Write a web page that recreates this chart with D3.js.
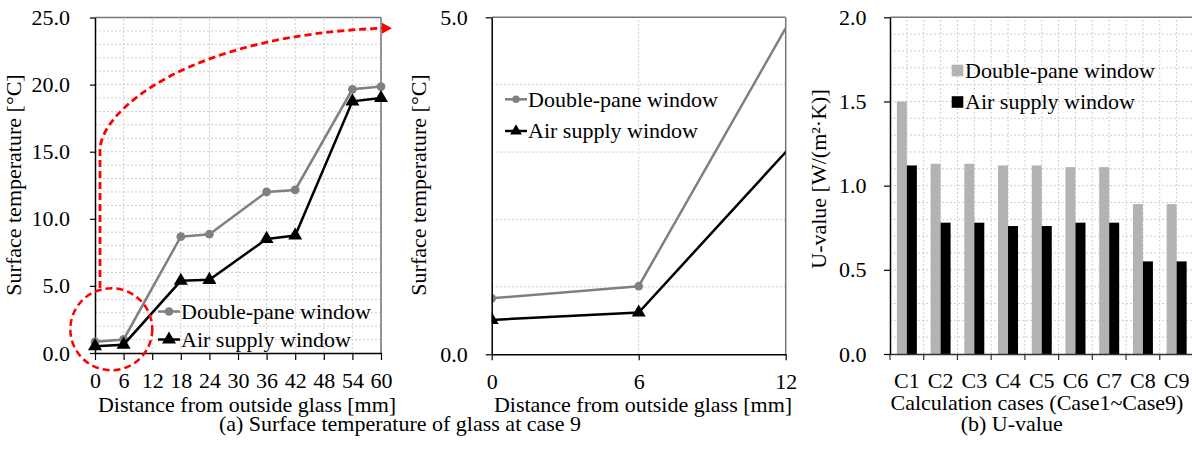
<!DOCTYPE html>
<html>
<head>
<meta charset="utf-8">
<script src="https://cdn.jsdelivr.net/npm/d3@7"></script>
<style>
  body { margin: 0; background: #fff; }
  svg { display: block; font-family: "Liberation Serif", "Times New Roman", serif; }
</style>
</head>
<body>
<div id="scene"></div>
<script>
// ---- data ----
var distance = [0, 6, 18, 24, 36, 42, 54, 60];
var doublePane = [0.83, 1.01, 8.67, 8.85, 12.0, 12.15, 19.65, 19.85];
var airSupply = [0.51, 0.62, 5.38, 5.45, 8.5, 8.75, 18.75, 19.0];

var cases = ["C1", "C2", "C3", "C4", "C5", "C6", "C7", "C8", "C9"];
var uDouble = [1.50, 1.13, 1.13, 1.12, 1.12, 1.11, 1.11, 0.89, 0.89];
var uAir = [1.12, 0.78, 0.78, 0.76, 0.76, 0.78, 0.78, 0.55, 0.55];

var seriesNames = ["Double-pane window", "Air supply window"];

// annotation path (data units of panel a)
var arrowStart = [1.05, 4.84];
var arrowBend = [1.05, 15.1];
var arrowCtrl = [[1.05, 18.1], [19.9, 23.7]];
var arrowEnd = [60.4, 24.2];
var zoomCircle = {x: 3.42, y: 1.77, r: 8.6};

var ctx = {
  w: 1192,
  h: 450,
  font: 22,
  gray: "#808080",
  barGray: "#b3b3b3",
  grid: "#cfcfcf",
  border: "#767676"
};

var svg = d3.select("#scene").append("svg")
  .attr("width", ctx.w)
  .attr("height", ctx.h);

function label(g, x, y, txt, anchor, rot) {
  var t = g.append("text")
    .attr("font-size", ctx.font)
    .attr("fill", "#000")
    .attr("text-anchor", anchor || "middle")
    .text(txt);
  if (rot) t.attr("transform", "translate(" + x + "," + y + ") rotate(" + rot + ")");
  else t.attr("x", x).attr("y", y);
  return t;
}

function gridLines(g, xs, ys, x, y) {
  g.append("g").selectAll("line").data(ys).enter().append("line")
    .attr("x1", x.range()[0]).attr("x2", x.range()[1])
    .attr("y1", function(d) { return y(d); }).attr("y2", function(d) { return y(d); })
    .attr("stroke", ctx.grid).attr("stroke-dasharray", "2,2");
  g.append("g").selectAll("line").data(xs).enter().append("line")
    .attr("y1", y.range()[0]).attr("y2", y.range()[1])
    .attr("x1", function(d) { return x(d); }).attr("x2", function(d) { return x(d); })
    .attr("stroke", ctx.grid).attr("stroke-dasharray", "2,2");
}

function frame(g, x0, x1, y0, y1, withRight) {
  g.append("line").attr("x1", x0).attr("x2", x1).attr("y1", y1).attr("y2", y1)
    .attr("stroke", ctx.border).attr("stroke-width", 1.5);
  if (withRight) {
    g.append("line").attr("x1", x1).attr("x2", x1).attr("y1", y0).attr("y2", y1)
      .attr("stroke", ctx.border).attr("stroke-width", 1.5);
  }
}

function styleAxis(a) {
  a.attr("font-family", null).attr("font-size", null);
  a.select(".domain").attr("stroke", "#000").attr("stroke-width", 1.5);
  a.selectAll(".tick line").attr("stroke", "#000").attr("stroke-width", 1.2);
  a.selectAll("text").attr("font-size", ctx.font).attr("fill", "#000");
}

function triangle(s) {
  return d3.symbol().type(d3.symbolTriangle).size(s)();
}

function drawSeries(g, x, y, vals, color, marker) {
  var pts = distance.map(function(d, i) { return [d, vals[i]]; });
  g.append("path")
    .datum(pts)
    .attr("fill", "none")
    .attr("stroke", color)
    .attr("stroke-width", 2.5)
    .attr("d", d3.line().x(function(d) { return x(d[0]); }).y(function(d) { return y(d[1]); }));
  var m = g.append("g").selectAll("path").data(pts).enter().append("path")
    .attr("fill", color)
    .attr("transform", function(d) { return "translate(" + x(d[0]) + "," + y(d[1]) + ")"; });
  if (marker === "circle") m.attr("d", d3.symbol().type(d3.symbolCircle).size(60)());
  else m.attr("d", triangle(85));
}

function lineLegend(g, x0, y0, dy, small) {
  var items = [{name: seriesNames[0], color: ctx.gray, marker: "circle"},
               {name: seriesNames[1], color: "#000", marker: "tri"}];
  items.forEach(function(it, i) {
    var yy = y0 + i * dy;
    g.append("line").attr("x1", x0).attr("x2", x0 + 22).attr("y1", yy).attr("y2", yy)
      .attr("stroke", it.color).attr("stroke-width", 2.5);
    g.append("path")
      .attr("transform", "translate(" + (x0 + 11) + "," + yy + ")")
      .attr("fill", it.color)
      .attr("d", it.marker === "circle" ? d3.symbol().type(d3.symbolCircle).size(small ? 45 : 60)() : triangle(small ? 60 : 85));
    label(g, x0 + 23, yy + 7.3, it.name, "start");
  });
}

// ---------- panel (a) left ----------
var pA = svg.append("g");
var xA = d3.scaleLinear().domain([0, 60]).range([95, 381]);
var yA = d3.scaleLinear().domain([0, 25]).range([353, 17.5]);

gridLines(pA, d3.range(6, 61, 6), d3.range(1, 26, 1), xA, yA);
frame(pA, 95, 381, 353, 17.5, true);

var axA = pA.append("g").attr("transform", "translate(0,353)")
  .call(d3.axisBottom(xA).tickValues(d3.range(0, 61, 6)).tickSize(7).tickPadding(12.4).tickSizeOuter(0));
styleAxis(axA);
var ayA = pA.append("g").attr("transform", "translate(95,0)")
  .call(d3.axisLeft(yA).tickValues(d3.range(0, 26, 5)).tickFormat(d3.format(".1f")).tickSize(5).tickPadding(20).tickSizeOuter(0));
styleAxis(ayA);

drawSeries(pA, xA, yA, doublePane, ctx.gray, "circle");
drawSeries(pA, xA, yA, airSupply, "#000", "tri");

lineLegend(pA, 158, 311.5, 28, false);

// red annotation
var p = d3.path();
p.moveTo(xA(arrowStart[0]), yA(arrowStart[1]));
p.lineTo(xA(arrowBend[0]), yA(arrowBend[1]));
p.bezierCurveTo(xA(arrowCtrl[0][0]), yA(arrowCtrl[0][1]), xA(arrowCtrl[1][0]), yA(arrowCtrl[1][1]), xA(arrowEnd[0]), yA(arrowEnd[1]));
pA.append("path").attr("d", p.toString())
  .attr("fill", "none").attr("stroke", "#ff0000").attr("stroke-width", 2.8).attr("stroke-dasharray", "7,4");
pA.append("path")
  .attr("d", "M0,-5.5L10,0L0,5.5Z")
  .attr("transform", "translate(" + (xA(arrowEnd[0]) - 1) + "," + yA(arrowEnd[1]) + ")")
  .attr("fill", "#ff0000");
pA.append("circle")
  .attr("cx", xA(zoomCircle.x)).attr("cy", yA(zoomCircle.y))
  .attr("r", xA(zoomCircle.r) - xA(0))
  .attr("fill", "none").attr("stroke", "#ff0000").attr("stroke-width", 2.5).attr("stroke-dasharray", "7,4");

label(pA, 21, 185, "Surface temperature [°C]", "middle", -90);
label(pA, 247, 411.5, "Distance from outside glass [mm]");

// ---------- panel (a) right (zoom) ----------
var pB = svg.append("g");
var xB = d3.scaleLinear().domain([0, 12]).range([491.7, 785.7]);
var yB = d3.scaleLinear().domain([0, 5]).range([354.3, 17.3]);

gridLines(pB, [6], d3.range(1, 5, 1), xB, yB);
frame(pB, 491.7, 785.7, 354.3, 17.3, true);

svg.append("clipPath").attr("id", "clipB").append("rect")
  .attr("x", 491.7).attr("y", 17.3).attr("width", 294).attr("height", 337);
var seriesB = pB.append("g").attr("clip-path", "url(#clipB)");
drawSeries(seriesB, xB, yB, doublePane, ctx.gray, "circle");
drawSeries(seriesB, xB, yB, airSupply, "#000", "tri");

var axB = pB.append("g").attr("transform", "translate(0,354.3)")
  .call(d3.axisBottom(xB).tickValues([0, 6, 12]).tickSize(6).tickPadding(12.9).tickSizeOuter(0));
styleAxis(axB);
var ayB = pB.append("g").attr("transform", "translate(491.7,0)")
  .call(d3.axisLeft(yB).tickValues([0, 5]).tickFormat(d3.format(".1f")).tickSize(6).tickPadding(18).tickSizeOuter(0));
styleAxis(ayB);

lineLegend(pB, 505, 99.3, 31.7, true);

label(pB, 426, 185, "Surface temperature [°C]", "middle", -90);
label(pB, 643, 411.5, "Distance from outside glass [mm]");

label(svg, 400, 431, "(a) Surface temperature of glass at case 9");

// ---------- panel (b) U-value ----------
var pC = svg.append("g");
var xC = d3.scaleBand().domain(cases).range([890, 1193.5]).padding(0);
var yC = d3.scaleLinear().domain([0, 2]).range([354, 17.3]);
var inner = d3.scaleBand().domain([0, 1]).range([0, 20]);
var bw = xC.bandwidth();

var halfSteps = [];
cases.forEach(function(c) { halfSteps.push(xC(c) + bw / 2, xC(c) + bw); });
pC.append("g").selectAll("line").data(d3.range(0.1, 2.01, 0.1)).enter().append("line")
  .attr("x1", 890).attr("x2", 1193.5)
  .attr("y1", function(d) { return yC(d); }).attr("y2", function(d) { return yC(d); })
  .attr("stroke", ctx.grid).attr("stroke-dasharray", "2,2");
pC.append("g").selectAll("line").data(halfSteps).enter().append("line")
  .attr("x1", function(d) { return d; }).attr("x2", function(d) { return d; })
  .attr("y1", 354).attr("y2", 17.3)
  .attr("stroke", ctx.grid).attr("stroke-dasharray", "2,2");
frame(pC, 890, 1193.5, 354, 17.3, false);

var bars = pC.append("g");
bars.selectAll("rect.d").data(cases).enter().append("rect")
  .attr("x", function(d) { return xC(d) + (bw - 20) / 2 + inner(0); })
  .attr("width", inner.bandwidth())
  .attr("y", function(d, i) { return yC(uDouble[i]); })
  .attr("height", function(d, i) { return yC(0) - yC(uDouble[i]); })
  .attr("fill", ctx.barGray);
bars.selectAll("rect.a").data(cases).enter().append("rect")
  .attr("x", function(d) { return xC(d) + (bw - 20) / 2 + inner(1); })
  .attr("width", inner.bandwidth())
  .attr("y", function(d, i) { return yC(uAir[i]); })
  .attr("height", function(d, i) { return yC(0) - yC(uAir[i]); })
  .attr("fill", "#000");

var axC = pC.append("g").attr("transform", "translate(0,354)")
  .call(d3.axisBottom(xC).tickSize(0).tickPadding(18.4));
styleAxis(axC);
axC.select(".domain").attr("stroke", "#333");
pC.append("g").selectAll("line").data(cases).enter().append("line")
  .attr("x1", function(d) { return xC(d); }).attr("x2", function(d) { return xC(d); })
  .attr("y1", 354).attr("y2", 360)
  .attr("stroke", "#333").attr("stroke-width", 1.2);
var ayC = pC.append("g").attr("transform", "translate(890,0)")
  .call(d3.axisLeft(yC).tickValues([0, 0.5, 1, 1.5, 2]).tickFormat(d3.format(".1f")).tickSize(6).tickPadding(17.5).tickSizeOuter(0));
styleAxis(ayC);

// legend
[{name: seriesNames[0], color: ctx.barGray}, {name: seriesNames[1], color: "#000"}].forEach(function(it, i) {
  var yy = 70.5 + i * 31.5;
  pC.append("rect").attr("x", 951.7).attr("y", yy - 5.8).attr("width", 11.6).attr("height", 11.6).attr("fill", it.color);
  label(pC, 965, yy + 7.3, it.name, "start");
});

label(pC, 826, 179, "U-value [W/(m²·K)]", "middle", -90);
label(pC, 1037, 410, "Calculation cases (Case1~Case9)");
label(pC, 1011.7, 431, "(b) U-value");
</script>
</body>
</html>
